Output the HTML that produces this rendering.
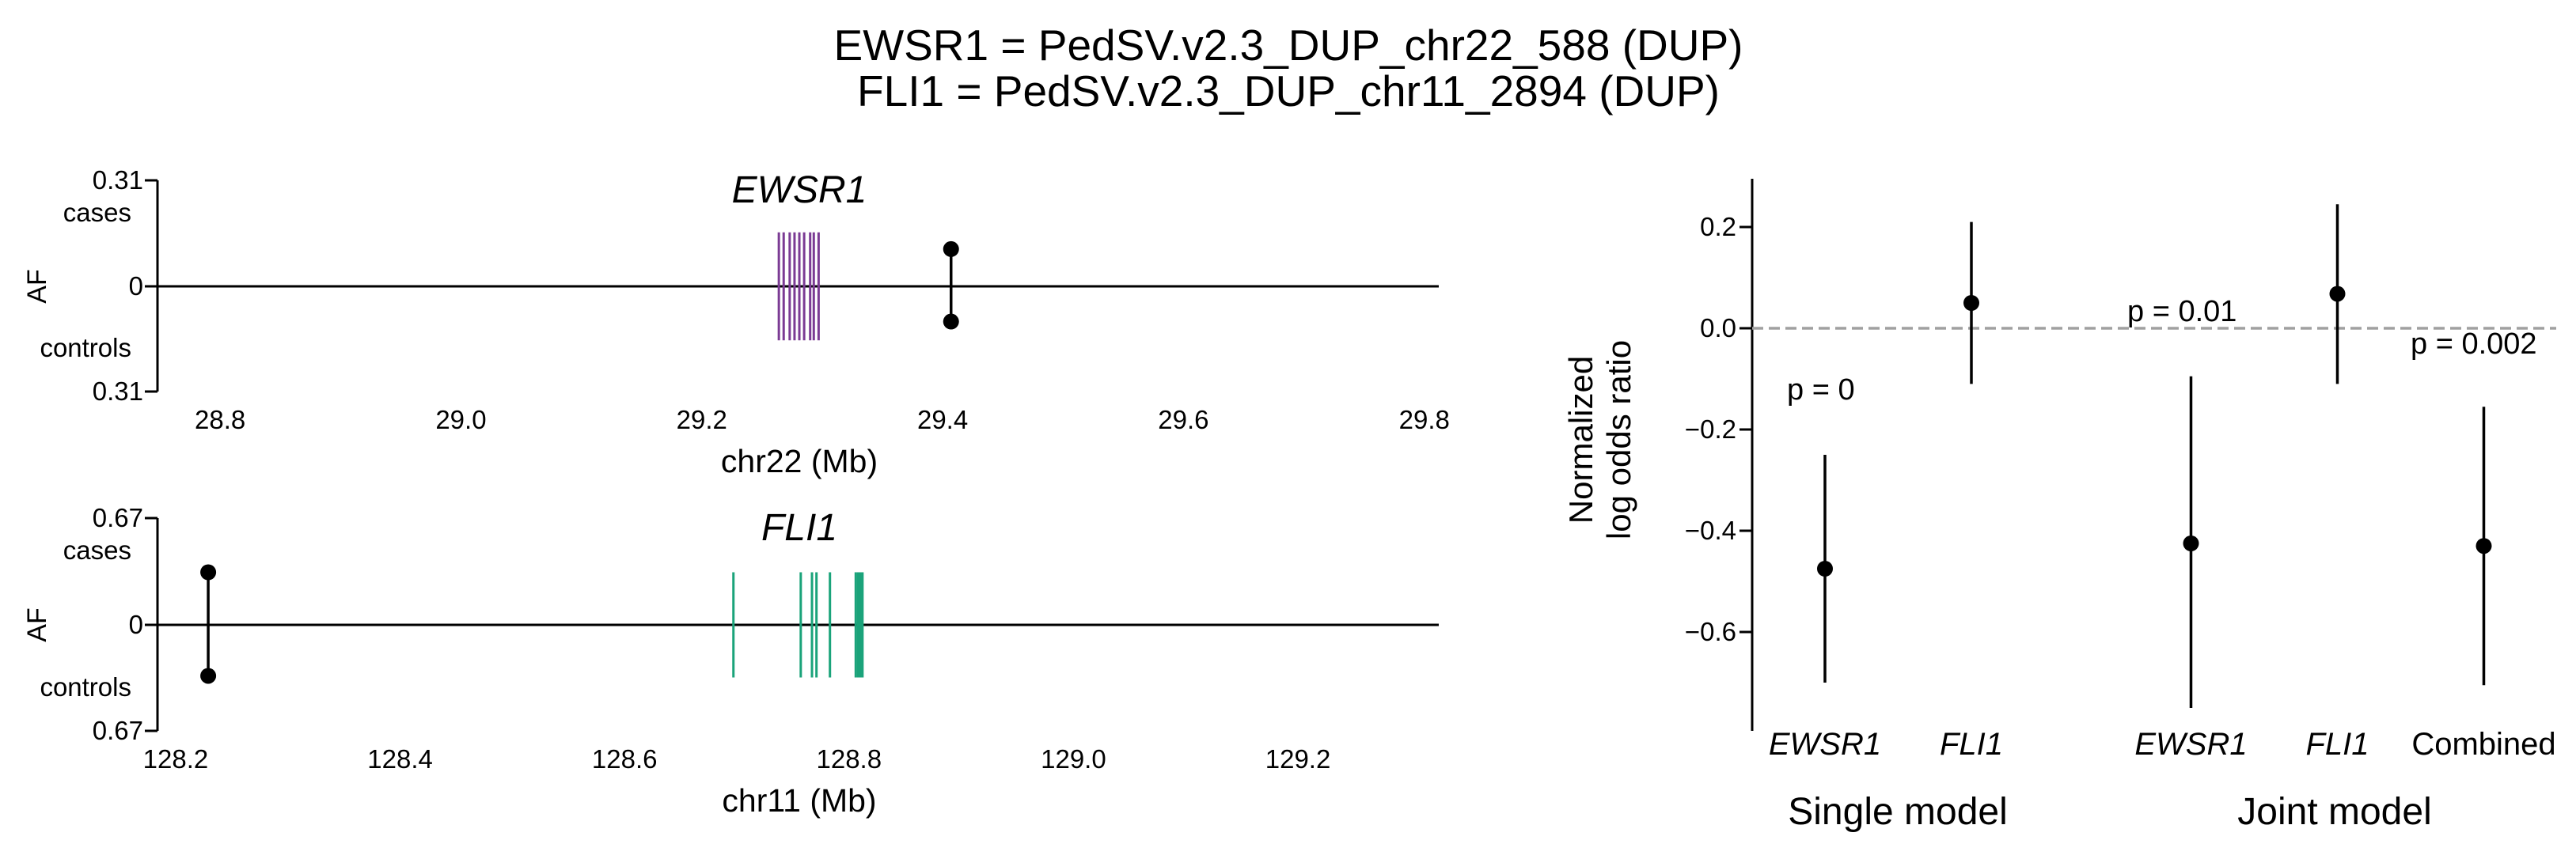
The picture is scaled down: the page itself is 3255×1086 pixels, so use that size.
<!DOCTYPE html>
<html><head><meta charset="utf-8"><style>
body{margin:0;background:#fff}
svg text{font-family:"Liberation Sans",sans-serif;fill:#000}
</style></head><body>
<svg id="fig" width="3255" height="1081" xmlns="http://www.w3.org/2000/svg">
<text x="1628" y="76" font-size="55" text-anchor="middle">EWSR1 = PedSV.v2.3_DUP_chr22_588 (DUP)</text>
<text x="1628" y="134" font-size="55" text-anchor="middle">FLI1 = PedSV.v2.3_DUP_chr11_2894 (DUP)</text>
<g id="top"></g>
<g id="bot"></g>
<g id="right"></g>
</svg>
<script>
const NS="http://www.w3.org/2000/svg";
// EWSR1 panel data
const ewsrXTicks=[28.8,29.0,29.2,29.4,29.6,29.8];
const ewsrGenePos=[29.264,29.268,29.273,29.277,29.281,29.285,29.290,29.293,29.297];
const ewsrGeneAF=0.158;
const ewsrSvPos=[29.407];
const ewsrCasesAF=[0.109];
const ewsrControlsAF=[0.103];
const ewsrMax=0.31;
// FLI1 panel data
const fliXTicks=[128.2,128.4,128.6,128.8,129.0,129.2];
const fliGenePos=[128.697,128.757,128.767,128.771,128.783,128.806,128.808,128.810,128.812];
const fliGeneAF=0.33;
const fliSvPos=[128.229];
const fliCasesAF=[0.33];
const fliControlsAF=[0.32];
const fliMax=0.67;
// Odds ratio data
const orCats=["EWSR1","FLI1","EWSR1","FLI1","Combined"];
const orCatPos=[0,1,2.5,3.5,4.5];
const orItalic=[true,true,true,true,false];
const orEst=[-0.475,0.05,-0.425,0.068,-0.43];
const orLo=[-0.70,-0.11,-0.75,-0.11,-0.705];
const orHi=[-0.25,0.21,-0.095,0.245,-0.155];
const orYTicks=[0.2,0.0,-0.2,-0.4,-0.6];
const orYTickLabels=["0.2","0.0","\u22120.2","\u22120.4","\u22120.6"];
const pLabels=["p = 0","p = 0.01","p = 0.002"];

function mk(parent,tag,attrs,text){const e=document.createElementNS(NS,tag);for(const k in attrs)e.setAttribute(k,attrs[k]);if(text!==undefined)e.textContent=text;parent.appendChild(e);return e;}

function panel(gid,name,xTicks,x0,x1,yTop,yZero,yBot,maxAF,genePos,geneAF,geneColor,svPos,cAF,ctAF,gene,xlab){
  const g=document.getElementById(gid);
  const L=199,R=1818;
  const X=v=>L+(v-x0)/(x1-x0)*(R-L);
  const Y=v=>yZero-v/maxAF*(yZero-yTop);
  let e=mk(g,'line',{x1:L,y1:yTop,x2:L,y2:yBot,stroke:'#000','stroke-width':3});
  
  [[yTop,String(maxAF)],[yZero,'0'],[yBot,String(maxAF)]].forEach(([y,t])=>{
    let tk=mk(g,'line',{x1:L-16,y1:y,x2:L,y2:y,stroke:'#000','stroke-width':3});
    
    let tl=mk(g,'text',{x:L-18,y:y+11,'font-size':33,'text-anchor':'end'},t);
    
  });
  e=mk(g,'text',{x:166,y:yTop+52,'font-size':33,'text-anchor':'end'},'cases');
  
  e=mk(g,'text',{x:166,y:yBot-44,'font-size':33,'text-anchor':'end'},'controls');
  
  e=mk(g,'text',{x:0,y:0,'font-size':34,'text-anchor':'middle',transform:`translate(58,${yZero}) rotate(-90)`},'AF');
  
  e=mk(g,'line',{x1:L,y1:yZero,x2:R,y2:yZero,stroke:'#000','stroke-width':3});
  
  xTicks.forEach(v=>{
    let tl=mk(g,'text',{x:X(v),y:yBot+47,'font-size':33,'text-anchor':'middle'},v.toFixed(1));
    
  });
  e=mk(g,'text',{x:1010,y:yBot+102,'font-size':41,'text-anchor':'middle'},xlab);
  
  e=mk(g,'text',{x:1010,y:yTop+28,'font-size':48,'font-style':'italic','text-anchor':'middle'},gene);
  
  genePos.forEach(v=>{
    let l=mk(g,'line',{x1:X(v),y1:Y(geneAF),x2:X(v),y2:Y(-geneAF),stroke:geneColor,'stroke-width':3});
    
  });
  svPos.forEach((v,i)=>{
    let l=mk(g,'line',{x1:X(v),y1:Y(cAF[i]),x2:X(v),y2:Y(-ctAF[i]),stroke:'#000','stroke-width':3.5});
    
    let c1=mk(g,'circle',{cx:X(v),cy:Y(cAF[i]),r:10,fill:'#000'});
    
    let c2=mk(g,'circle',{cx:X(v),cy:Y(-ctAF[i]),r:10,fill:'#000'});
    
  });
}
panel('top','ewsr1',ewsrXTicks,28.748,29.812,228,362,495,ewsrMax,ewsrGenePos,ewsrGeneAF,'#7b3b94',ewsrSvPos,ewsrCasesAF,ewsrControlsAF,'EWSR1','chr22 (Mb)');
panel('bot','fli1',fliXTicks,128.1838,129.3255,655,790,924,fliMax,fliGenePos,fliGeneAF,'#1aa37a',fliSvPos,fliCasesAF,fliControlsAF,'FLI1','chr11 (Mb)');

// right panel
(function(){
  const g=document.getElementById('right');
  const AX=2214, yT=226, yB=924;
  const Y=v=>415-v*640;
  const X=p=>2306+p*185;
  let e=mk(g,'line',{x1:AX,y1:yT,x2:AX,y2:yB,stroke:'#000','stroke-width':3});
  
  orYTicks.forEach((v,i)=>{
    let tk=mk(g,'line',{x1:AX-16,y1:Y(v),x2:AX,y2:Y(v),stroke:'#000','stroke-width':3});
    
    let tl=mk(g,'text',{x:AX-20,y:Y(v)+11,'font-size':33,'text-anchor':'end'},orYTickLabels[i]);
    
  });
  e=mk(g,'text',{x:0,y:0,'font-size':42,'text-anchor':'middle',transform:'translate(2012,556) rotate(-90)'},'Normalized');
  
  e=mk(g,'text',{x:0,y:0,'font-size':42,'text-anchor':'middle',transform:'translate(2060,556) rotate(-90)'},'log odds ratio');
  
  e=mk(g,'line',{x1:AX,y1:Y(0),x2:3230,y2:Y(0),stroke:'#a0a0a0','stroke-width':3.5,'stroke-dasharray':'14 7'});
  
  orCats.forEach((c,i)=>{
    let l=mk(g,'line',{x1:X(orCatPos[i]),y1:Y(orHi[i]),x2:X(orCatPos[i]),y2:Y(orLo[i]),stroke:'#000','stroke-width':3.5});
    
    let p=mk(g,'circle',{cx:X(orCatPos[i]),cy:Y(orEst[i]),r:10,fill:'#000'});
    
    let t=mk(g,'text',{x:X(orCatPos[i]),y:954,'font-size':40,'text-anchor':'middle','font-style':orItalic[i]?'italic':'normal'},c);
    
  });
  let p0=mk(g,'text',{x:2258,y:505,'font-size':38},pLabels[0]);
  
  let p1=mk(g,'text',{x:2688,y:406,'font-size':38},pLabels[1]);
  
  let p2=mk(g,'text',{x:3046,y:447,'font-size':38},pLabels[2]);
  
  e=mk(g,'text',{x:2398,y:1042,'font-size':48,'text-anchor':'middle'},'Single model');
  
  e=mk(g,'text',{x:2950,y:1042,'font-size':48,'text-anchor':'middle'},'Joint model');
  
})();
</script>
</body></html>
